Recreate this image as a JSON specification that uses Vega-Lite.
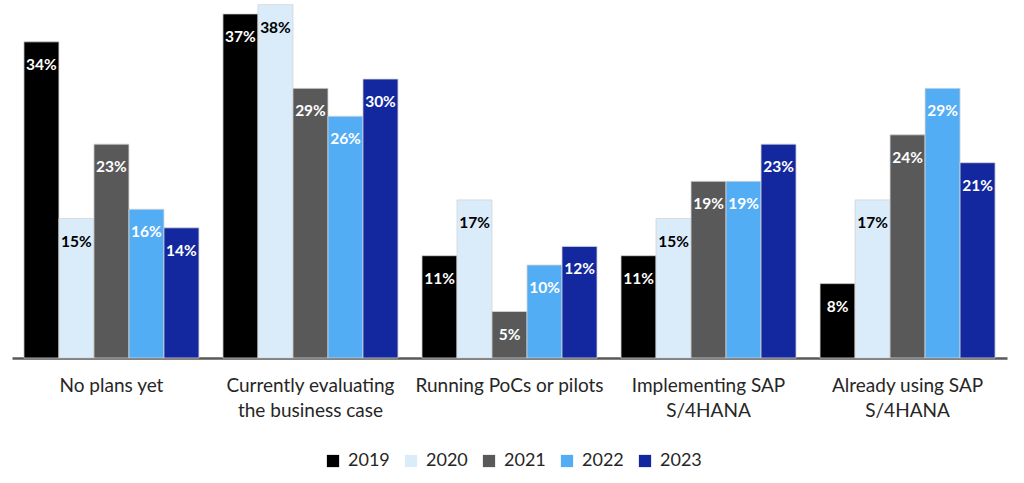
{
  "$schema": "https://vega.github.io/schema/vega-lite/v6.json",
  "width": 995,
  "height": 358,
  "autosize": "none",
  "padding": {"left": 12, "top": 0, "right": 17, "bottom": 125},
  "background": "white",
  "config": {"view": {"stroke": null}},
  "data": {
    "values": [
      {"category": "No plans yet", "year": "2019", "value": 34},
      {"category": "No plans yet", "year": "2020", "value": 15},
      {"category": "No plans yet", "year": "2021", "value": 23},
      {"category": "No plans yet", "year": "2022", "value": 16},
      {"category": "No plans yet", "year": "2023", "value": 14},
      {"category": "Currently evaluating|the business case", "year": "2019", "value": 37},
      {"category": "Currently evaluating|the business case", "year": "2020", "value": 38},
      {"category": "Currently evaluating|the business case", "year": "2021", "value": 29},
      {"category": "Currently evaluating|the business case", "year": "2022", "value": 26},
      {"category": "Currently evaluating|the business case", "year": "2023", "value": 30},
      {"category": "Running PoCs or pilots", "year": "2019", "value": 11},
      {"category": "Running PoCs or pilots", "year": "2020", "value": 17},
      {"category": "Running PoCs or pilots", "year": "2021", "value": 5},
      {"category": "Running PoCs or pilots", "year": "2022", "value": 10},
      {"category": "Running PoCs or pilots", "year": "2023", "value": 12},
      {"category": "Implementing SAP|S/4HANA", "year": "2019", "value": 11},
      {"category": "Implementing SAP|S/4HANA", "year": "2020", "value": 15},
      {"category": "Implementing SAP|S/4HANA", "year": "2021", "value": 19},
      {"category": "Implementing SAP|S/4HANA", "year": "2022", "value": 19},
      {"category": "Implementing SAP|S/4HANA", "year": "2023", "value": 23},
      {"category": "Already using SAP|S/4HANA", "year": "2019", "value": 8},
      {"category": "Already using SAP|S/4HANA", "year": "2020", "value": 17},
      {"category": "Already using SAP|S/4HANA", "year": "2021", "value": 24},
      {"category": "Already using SAP|S/4HANA", "year": "2022", "value": 29},
      {"category": "Already using SAP|S/4HANA", "year": "2023", "value": 21}
    ]
  },
  "encoding": {
    "x": {
      "field": "category",
      "type": "nominal",
      "sort": null,
      "scale": {"paddingInner": 0.1206, "paddingOuter": 0.06},
      "axis": {
        "title": null,
        "labelAngle": 0,
        "labelExpr": "split(datum.label, '|')",
        "labelFont": "Lato",
        "labelFontSize": 19,
        "labelColor": "#262626",
        "labelLineHeight": 25,
        "labelPadding": 18,
        "labelLimit": 400,
        "ticks": false,
        "domainColor": "#595959",
        "domainWidth": 2.5,
        "grid": false
      }
    },
    "xOffset": {"field": "year", "type": "nominal"},
    "y": {
      "field": "value",
      "type": "quantitative",
      "scale": {"domain": [0, 38.5], "nice": false},
      "axis": null
    }
  },
  "layer": [
    {
      "mark": {"type": "bar", "stroke": "#d4d4d4", "strokeWidth": 0.8},
      "encoding": {
        "color": {
          "field": "year",
          "type": "nominal",
          "scale": {
            "domain": ["2019", "2020", "2021", "2022", "2023"],
            "range": ["#000000", "#DAEBFA", "#595959", "#52ADF5", "#13289E"]
          },
          "legend": {
            "title": null,
            "orient": "none",
            "legendX": 312,
            "legendY": 452,
            "direction": "horizontal",
            "symbolType": "square",
            "symbolSize": 150,
            "symbolStrokeWidth": 0,
            "labelFont": "Lato",
            "labelFontSize": 18,
            "labelColor": "#262626",
            "columnPadding": 12,
            "labelOffset": 6
          }
        }
      }
    },
    {
      "transform": [{"calculate": "format(datum.value, 'd') + '%'", "as": "label"}],
      "mark": {"type": "text", "font": "Lato", "fontWeight": "bold", "fontSize": 15.5, "baseline": "middle", "dy": 23},
      "encoding": {
        "text": {"field": "label", "type": "nominal"},
        "color": {
          "condition": {"test": "datum.year == '2020'", "value": "#000000"},
          "value": "#ffffff"
        }
      }
    }
  ]
}
